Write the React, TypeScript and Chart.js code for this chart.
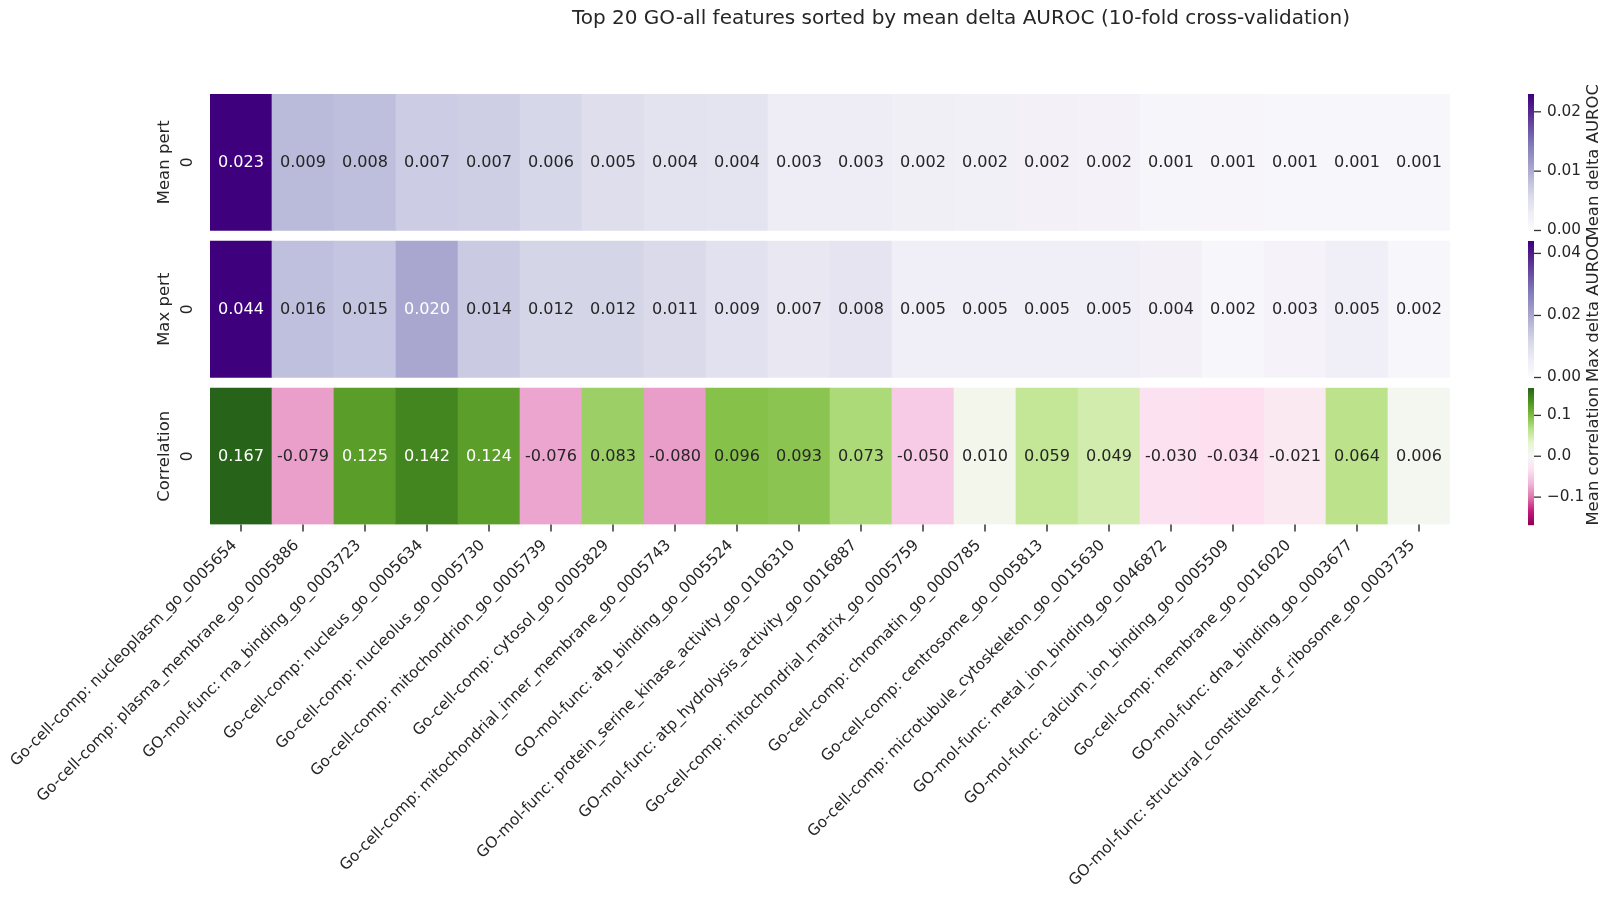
import React, { useEffect, useRef } from 'react';
import { Chart, registerables } from 'chart.js';

Chart.register(...registerables);

const features = [
  'Go-cell-comp: nucleoplasm_go_0005654',
  'Go-cell-comp: plasma_membrane_go_0005886',
  'GO-mol-func: rna_binding_go_0003723',
  'Go-cell-comp: nucleus_go_0005634',
  'Go-cell-comp: nucleolus_go_0005730',
  'Go-cell-comp: mitochondrion_go_0005739',
  'Go-cell-comp: cytosol_go_0005829',
  'Go-cell-comp: mitochondrial_inner_membrane_go_0005743',
  'GO-mol-func: atp_binding_go_0005524',
  'GO-mol-func: protein_serine_kinase_activity_go_0106310',
  'GO-mol-func: atp_hydrolysis_activity_go_0016887',
  'Go-cell-comp: mitochondrial_matrix_go_0005759',
  'Go-cell-comp: chromatin_go_0000785',
  'Go-cell-comp: centrosome_go_0005813',
  'Go-cell-comp: microtubule_cytoskeleton_go_0015630',
  'GO-mol-func: metal_ion_binding_go_0046872',
  'GO-mol-func: calcium_ion_binding_go_0005509',
  'Go-cell-comp: membrane_go_0016020',
  'GO-mol-func: dna_binding_go_0003677',
  'GO-mol-func: structural_constituent_of_ribosome_go_0003735',
];

const meanPert = [0.023, 0.0088, 0.0084, 0.0071, 0.0069, 0.006, 0.0052, 0.0045, 0.0044, 0.003, 0.003, 0.0024, 0.0022, 0.002, 0.0018, 0.0013, 0.0012, 0.0011, 0.0011, 0.001];
const maxPert = [0.044, 0.016, 0.015, 0.020, 0.014, 0.012, 0.012, 0.011, 0.009, 0.007, 0.008, 0.005, 0.005, 0.005, 0.005, 0.004, 0.002, 0.003, 0.005, 0.002];
const correlation = [0.167, -0.079, 0.125, 0.142, 0.124, -0.076, 0.083, -0.080, 0.096, 0.093, 0.073, -0.050, 0.010, 0.059, 0.049, -0.030, -0.034, -0.021, 0.064, 0.006];

const rowLabels = ['Mean pert', 'Max pert', 'Correlation'];
const colorbarLabels = ['Mean delta AUROC', 'Max delta AUROC', 'Mean correlation'];
const meanTicks = [0, 0.01, 0.02];
const maxTicks = [0, 0.02, 0.04];
const corrTicks = [-0.1, 0, 0.1];

const title = 'Top 20 GO-all features sorted by mean delta AUROC (10-fold cross-validation)';

// colorbrewer stops used by matplotlib
const PURPLES = ['#fcfbfd', '#efedf5', '#dadaeb', '#bcbddc', '#9e9ac8', '#807dba', '#6a51a3', '#54278f', '#3f007d'];
const PIYG = ['#8e0152', '#c51b7d', '#de77ae', '#f1b6da', '#fde0ef', '#f7f7f7', '#e6f5d0', '#b8e186', '#7fbc41', '#4d9221', '#276419'];

const FONT = '"DejaVu Sans", "Liberation Sans", sans-serif';
const TEXT = '#262626';
const ROW = 1;
const GAP = 0.077;

const hexToRgb = (h) => [parseInt(h.slice(1, 3), 16), parseInt(h.slice(3, 5), 16), parseInt(h.slice(5, 7), 16)];

const sampleMap = (stops, t) => {
  const c = Math.min(1, Math.max(0, t)) * (stops.length - 1);
  const i = Math.min(stops.length - 2, Math.floor(c));
  const f = c - i;
  const a = hexToRgb(stops[i]);
  const b = hexToRgb(stops[i + 1]);
  return a.map((v, k) => Math.round(v + (b[k] - v) * f));
};

const luminance = (rgb) => {
  const lin = rgb.map((v) => {
    const s = v / 255;
    return s <= 0.03928 ? s / 12.92 : Math.pow((s + 0.055) / 1.055, 2.4);
  });
  return 0.2126 * lin[0] + 0.7152 * lin[1] + 0.0722 * lin[2];
};

const corrMax = Math.max(...correlation.map((v) => Math.abs(v)));

const rows = [
  { values: meanPert, stops: PURPLES, vmin: 0, vmax: Math.max(...meanPert), ticks: meanTicks, fmt: (v) => v.toFixed(2) },
  { values: maxPert, stops: PURPLES, vmin: 0, vmax: Math.max(...maxPert), ticks: maxTicks, fmt: (v) => v.toFixed(2) },
  { values: correlation, stops: PIYG, vmin: -corrMax, vmax: corrMax, ticks: corrTicks, fmt: (v) => (v < 0 ? '\u2212' : '') + Math.abs(v).toFixed(1) },
];

const colorOf = (row, v) => sampleMap(row.stops, (v - row.vmin) / (row.vmax - row.vmin));
const rgbStr = (c) => `rgb(${c[0]},${c[1]},${c[2]})`;

const decorPlugin = {
  id: 'heatmapDecor',
  afterDatasetsDraw(chart) {
    const { ctx, scales } = chart;
    const xs = scales.x;
    const ys = scales.y;
    ctx.save();

    // cell annotations
    rows.forEach((row, r) => {
      const meta = chart.getDatasetMeta(r);
      meta.data.forEach((bar, i) => {
        const v = row.values[i];
        const c = colorOf(row, v);
        ctx.fillStyle = luminance(c) < 0.408 ? '#ffffff' : TEXT;
        ctx.font = `16.1px ${FONT}`;
        ctx.textAlign = 'center';
        ctx.textBaseline = 'middle';
        ctx.fillText(v.toFixed(3), bar.x, (bar.y + bar.base) / 2 + 1);
      });
    });

    // row labels
    rows.forEach((row, r) => {
      const top = ys.getPixelForValue(r * (ROW + GAP));
      const bot = ys.getPixelForValue(r * (ROW + GAP) + ROW);
      const cy = (top + bot) / 2;
      ctx.save();
      ctx.translate(165, cy);
      ctx.rotate(-Math.PI / 2);
      ctx.fillStyle = TEXT;
      ctx.textAlign = 'center';
      ctx.textBaseline = 'middle';
      ctx.font = `16.5px ${FONT}`;
      ctx.fillText(rowLabels[r], 0, 0);
      ctx.font = `15.5px ${FONT}`;
      ctx.fillText('0', 0, 23);
      ctx.restore();
    });

    // x ticks and rotated labels
    const axisBottom = chart.chartArea.bottom;
    const h = 15.5 * 1.17;
    features.forEach((name, i) => {
      const x = xs.getPixelForValue(i);
      ctx.strokeStyle = '#333333';
      ctx.lineWidth = 1.5;
      ctx.beginPath();
      ctx.moveTo(x, axisBottom);
      ctx.lineTo(x, axisBottom + 7);
      ctx.stroke();
      const y0 = axisBottom + 12;
      ctx.save();
      ctx.translate(x - 0.354 * h, y0 + 0.354 * h);
      ctx.rotate(-Math.PI / 4);
      ctx.fillStyle = TEXT;
      ctx.font = `15.4px ${FONT}`;
      ctx.textAlign = 'right';
      ctx.textBaseline = 'middle';
      ctx.fillText(name, 0, 0);
      ctx.restore();
    });

    // colorbars
    const cbX = 1528;
    const cbW = 6;
    rows.forEach((row, r) => {
      const top = ys.getPixelForValue(r * (ROW + GAP));
      const bot = ys.getPixelForValue(r * (ROW + GAP) + ROW);
      const hgt = bot - top;
      for (let py = 0; py < hgt; py += 1) {
        const t = 1 - (py + 0.5) / hgt;
        ctx.fillStyle = rgbStr(sampleMap(row.stops, t));
        ctx.fillRect(cbX, top + py, cbW, 1.2);
      }
      row.ticks.forEach((tv) => {
        const ty = bot - ((tv - row.vmin) / (row.vmax - row.vmin)) * hgt;
        ctx.strokeStyle = '#333333';
        ctx.lineWidth = 1.3;
        ctx.beginPath();
        ctx.moveTo(cbX + cbW, ty);
        ctx.lineTo(cbX + cbW + 7, ty);
        ctx.stroke();
        ctx.fillStyle = TEXT;
        ctx.font = `15.3px ${FONT}`;
        ctx.textAlign = 'left';
        ctx.textBaseline = 'middle';
        ctx.fillText(row.fmt(tv), cbX + cbW + 13, ty);
      });
      ctx.save();
      ctx.translate(1594, (top + bot) / 2);
      ctx.rotate(-Math.PI / 2);
      ctx.fillStyle = TEXT;
      ctx.font = `16.5px ${FONT}`;
      ctx.textAlign = 'center';
      ctx.textBaseline = 'middle';
      ctx.fillText(colorbarLabels[r], 0, 0);
      ctx.restore();
    });

    // title
    ctx.fillStyle = TEXT;
    ctx.font = `20px ${FONT}`;
    ctx.textAlign = 'center';
    ctx.textBaseline = 'middle';
    ctx.fillText(title, 961, 19);

    ctx.restore();
  },
};

export default function App() {
  const canvasRef = useRef(null);
  const chartRef = useRef(null);

  useEffect(() => {
    if (!canvasRef.current) return;
    if (chartRef.current) chartRef.current.destroy();

    const datasets = rows.map((row, r) => ({
      label: rowLabels[r],
      data: row.values.map(() => [r * (ROW + GAP), r * (ROW + GAP) + ROW]),
      backgroundColor: row.values.map((v) => rgbStr(colorOf(row, v))),
      borderWidth: 0,
      grouped: false,
      barPercentage: 1,
      categoryPercentage: 1,
    }));

    chartRef.current = new Chart(canvasRef.current, {
      type: 'bar',
      data: { labels: features, datasets },
      options: {
        animation: false,
        responsive: true,
        maintainAspectRatio: false,
        events: [],
        layout: { padding: { left: 210, right: 167, top: 94, bottom: 373.5 } },
        plugins: { legend: { display: false }, tooltip: { enabled: false }, title: { display: false } },
        scales: {
          x: { type: 'category', display: false, offset: true },
          y: { type: 'linear', display: false, reverse: true, min: 0, max: 3 * ROW + 2 * GAP },
        },
      },
      plugins: [decorPlugin],
    });

    return () => {
      if (chartRef.current) {
        chartRef.current.destroy();
        chartRef.current = null;
      }
    };
  }, []);

  return (
    <div style={{ position: 'fixed', left: 0, top: 0, width: 1617, height: 898, background: '#ffffff' }}>
      <canvas ref={canvasRef}></canvas>
    </div>
  );
}
